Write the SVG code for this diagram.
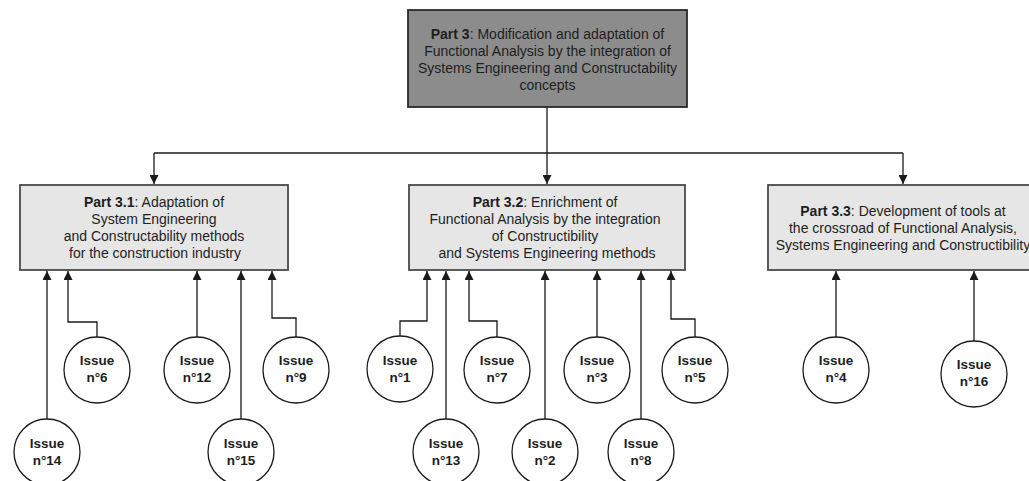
<svg xmlns="http://www.w3.org/2000/svg" width="1029" height="481" viewBox="0 0 1029 481">
<style>
.bg{fill:#ffffff}
.top{fill:#8c8c8c;stroke:#2a2a2a;stroke-width:1.8}
.sub{fill:#e6e6e6;stroke:#4a4a4a;stroke-width:1.8}
.iss{fill:#ffffff;stroke:#1a1a1a;stroke-width:1.3}
.t{font-family:"Liberation Sans",Arial,sans-serif;font-size:14px;fill:#1e1e1e;text-anchor:middle}
.b{font-weight:bold}
.it{font-family:"Liberation Sans",Arial,sans-serif;font-size:13.5px;font-weight:bold;fill:#1e1e1e;text-anchor:middle}
.c{fill:none;stroke:#1a1a1a;stroke-width:1.3}
</style>
<defs>
<marker id="ah" markerUnits="userSpaceOnUse" markerWidth="9" markerHeight="9" refX="8" refY="4" orient="auto" viewBox="0 0 8 8">
<path d="M0,0 L8,4 L0,8 z" fill="#1a1a1a"/>
</marker>
</defs>
<rect class="bg" x="0" y="0" width="1029" height="481"/>

<g id="connectors">
<path class="c" d="M547,107 V153"/>
<path class="c" d="M154,153 H903"/>
<path class="c" d="M154,153 V184" marker-end="url(#ah)"/>
<path class="c" d="M547,153 V184" marker-end="url(#ah)"/>
<path class="c" d="M903,153 V184" marker-end="url(#ah)"/>
<path class="c" d="M47,419 V271" marker-end="url(#ah)"/>
<path class="c" d="M97,337 V322 H68 V271" marker-end="url(#ah)"/>
<path class="c" d="M197,337 V271" marker-end="url(#ah)"/>
<path class="c" d="M241,419 V271" marker-end="url(#ah)"/>
<path class="c" d="M296,337 V318 H272 V271" marker-end="url(#ah)"/>
<path class="c" d="M400,336 V321 H427 V271" marker-end="url(#ah)"/>
<path class="c" d="M446,419 V271" marker-end="url(#ah)"/>
<path class="c" d="M497,337 V321 H469 V271" marker-end="url(#ah)"/>
<path class="c" d="M545,419 V271" marker-end="url(#ah)"/>
<path class="c" d="M597,337 V271" marker-end="url(#ah)"/>
<path class="c" d="M641,419 V271" marker-end="url(#ah)"/>
<path class="c" d="M695,337 V319 H671 V271" marker-end="url(#ah)"/>
<path class="c" d="M836,337 V271" marker-end="url(#ah)"/>
<path class="c" d="M974,341 V271" marker-end="url(#ah)"/>
</g>

<g id="part3">
<rect class="top" x="408" y="10" width="279" height="97"/>
<text class="t" x="547.5" y="38.5"><tspan class="b">Part 3</tspan>: Modification and adaptation of</text>
<text class="t" x="547.5" y="55.5">Functional Analysis by the integration of</text>
<text class="t" x="547.5" y="72.5">Systems Engineering and Constructability</text>
<text class="t" x="547.5" y="89.5">concepts</text>
</g>

<g id="part31">
<rect class="sub" x="20" y="185" width="268" height="85"/>
<text class="t" x="154" y="207"><tspan class="b">Part 3.1</tspan>: Adaptation of</text>
<text class="t" x="154" y="224">System Engineering</text>
<text class="t" x="154" y="241">and Constructability methods</text>
<text class="t" x="155" y="258">for the construction industry</text>
</g>

<g id="part32">
<rect class="sub" x="409" y="185" width="276" height="85"/>
<text class="t" x="545" y="207"><tspan class="b">Part 3.2</tspan>: Enrichment of</text>
<text class="t" x="545" y="224">Functional Analysis by the integration</text>
<text class="t" x="545" y="241">of Constructibility</text>
<text class="t" x="547" y="258">and Systems Engineering methods</text>
</g>

<g id="part33">
<rect class="sub" x="768" y="185" width="270" height="85"/>
<text class="t" x="903" y="216"><tspan class="b">Part 3.3</tspan>: Development of tools at</text>
<text class="t" x="903" y="233">the crossroad of Functional Analysis,</text>
<text class="t" x="903" y="250">Systems Engineering and Constructibility</text>
</g>

<g id="issue14"><circle class="iss" cx="47" cy="452" r="33"/><text class="it" x="47" y="448">Issue</text><text class="it" x="47" y="465">n°14</text></g>
<g id="issue6"><circle class="iss" cx="97" cy="370" r="33"/><text class="it" x="97" y="365">Issue</text><text class="it" x="97" y="382">n°6</text></g>
<g id="issue12"><circle class="iss" cx="197" cy="370" r="33"/><text class="it" x="197" y="365">Issue</text><text class="it" x="197" y="382">n°12</text></g>
<g id="issue15"><circle class="iss" cx="241" cy="452" r="33"/><text class="it" x="241" y="448">Issue</text><text class="it" x="241" y="465">n°15</text></g>
<g id="issue9"><circle class="iss" cx="296" cy="370" r="33"/><text class="it" x="296" y="365">Issue</text><text class="it" x="296" y="382">n°9</text></g>

<g id="issue1"><circle class="iss" cx="400" cy="369" r="33"/><text class="it" x="400" y="365">Issue</text><text class="it" x="400" y="382">n°1</text></g>
<g id="issue13"><circle class="iss" cx="446" cy="452" r="33"/><text class="it" x="446" y="448">Issue</text><text class="it" x="446" y="465">n°13</text></g>
<g id="issue7"><circle class="iss" cx="497" cy="370" r="33"/><text class="it" x="497" y="365">Issue</text><text class="it" x="497" y="382">n°7</text></g>
<g id="issue2"><circle class="iss" cx="545" cy="452" r="33"/><text class="it" x="545" y="448">Issue</text><text class="it" x="545" y="465">n°2</text></g>
<g id="issue3"><circle class="iss" cx="597" cy="370" r="33"/><text class="it" x="597" y="365">Issue</text><text class="it" x="597" y="382">n°3</text></g>
<g id="issue8"><circle class="iss" cx="641" cy="452" r="33"/><text class="it" x="641" y="448">Issue</text><text class="it" x="641" y="465">n°8</text></g>
<g id="issue5"><circle class="iss" cx="695" cy="370" r="33"/><text class="it" x="695" y="365">Issue</text><text class="it" x="695" y="382">n°5</text></g>

<g id="issue4"><circle class="iss" cx="836" cy="370" r="33"/><text class="it" x="836" y="365">Issue</text><text class="it" x="836" y="382">n°4</text></g>
<g id="issue16"><circle class="iss" cx="974" cy="374" r="33"/><text class="it" x="974" y="369">Issue</text><text class="it" x="974" y="386">n°16</text></g>
</svg>
